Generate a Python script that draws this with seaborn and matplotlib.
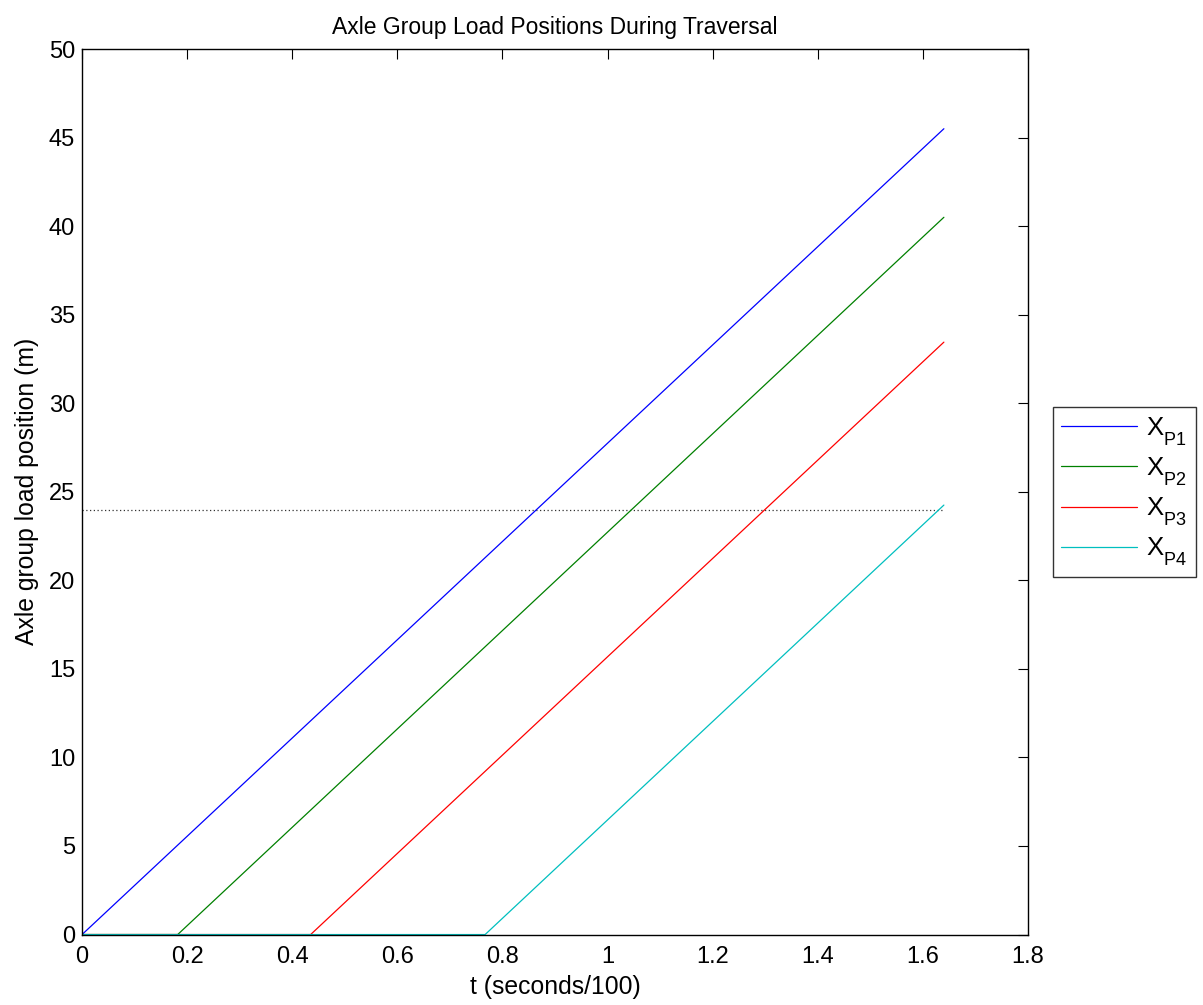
import numpy as np
import pandas as pd
import matplotlib
matplotlib.use("Agg")
import matplotlib.pyplot as plt
import seaborn as sns

# Breakpoints of each axle group's position over time (t in seconds/100, position in m)
t_p1 = [0.0, 1.64]
x_p1 = [0.0, 45.5]
t_p2 = [0.0, 0.182, 1.64]
x_p2 = [0.0, 0.0, 40.5]
t_p3 = [0.0, 0.435, 1.64]
x_p3 = [0.0, 0.0, 33.45]
t_p4 = [0.0, 0.767, 1.64]
x_p4 = [0.0, 0.0, 24.25]

series_names = ["P1", "P2", "P3", "P4"]
series_colors = ["#0000ff", "#008000", "#ff0000", "#00bfbf"]

bridge_length = 24.0
t_end = 1.64

x_ticks = [0, 0.2, 0.4, 0.6, 0.8, 1.0, 1.2, 1.4, 1.6, 1.8]
x_tick_labels = ["0", "0.2", "0.4", "0.6", "0.8", "1", "1.2", "1.4", "1.6", "1.8"]
y_ticks = [0, 5, 10, 15, 20, 25, 30, 35, 40, 45, 50]

frames = []
for name, tt, xx in zip(series_names, [t_p1, t_p2, t_p3, t_p4], [x_p1, x_p2, x_p3, x_p4]):
    frames.append(pd.DataFrame({"t": tt, "pos": xx,
                                "group": r"$\mathregular{X_{%s}}$" % name}))
df = pd.concat(frames, ignore_index=True)

sns.set_style("white")
plt.rcParams["font.family"] = ["Liberation Sans", "DejaVu Sans"]
plt.rcParams["mathtext.fontset"] = "custom"
plt.rcParams["mathtext.rm"] = "Liberation Sans"
plt.rcParams["text.color"] = "black"
plt.rcParams["axes.labelcolor"] = "black"

# Drop subscripts a little lower than the mathtext default
try:
    from matplotlib import _mathtext
    _mathtext.FontConstantsBase.sub1 = 0.75
    _mathtext.FontConstantsBase.subdrop = 0.75
except Exception:
    pass

fig = plt.figure(figsize=(12.03, 10.05), dpi=100)
ax = fig.add_axes([0.0682, 0.0701, 0.7863, 0.8811])

palette = dict(zip(df["group"].unique(), series_colors))
sns.lineplot(data=df, x="t", y="pos", hue="group", palette=palette,
             sort=False, estimator=None, linewidth=0.9, ax=ax)

ax.plot([0, t_end], [bridge_length, bridge_length], linestyle=(0, (1, 2)),
        color="#333333", linewidth=0.9, zorder=1)

ax.set_xlim(0, 1.8)
ax.set_ylim(0, 50)
ax.set_xticks(x_ticks)
ax.set_xticklabels(x_tick_labels)
ax.set_yticks(y_ticks)
ax.tick_params(direction="in", length=7, width=0.8, labelsize=17,
               top=True, right=True, colors="black")
ax.tick_params(axis="x", pad=8)
ax.tick_params(axis="y", pad=5)
for s in ax.spines.values():
    s.set_visible(True)
    s.set_color("black")
    s.set_linewidth(1.0)

ax.set_title("Axle Group Load Positions During Traversal", fontsize=16.5, pad=11,
             color="black")
ax.set_xlabel("t (seconds/100)", fontsize=17.8, labelpad=5)
ax.set_ylabel("Axle group load position (m)", fontsize=17.8, labelpad=7)

leg = ax.legend(loc="center left", bbox_to_anchor=(1.0264, 0.5), borderaxespad=0,
                fontsize=18.5, frameon=True, fancybox=False, edgecolor="black",
                handlelength=2.95, borderpad=0.33, labelspacing=0.3,
                handletextpad=0.35)
leg.get_frame().set_linewidth(1.0)
for line in leg.get_lines():
    line.set_linewidth(0.9)

fig.savefig("out.png", dpi=100)
